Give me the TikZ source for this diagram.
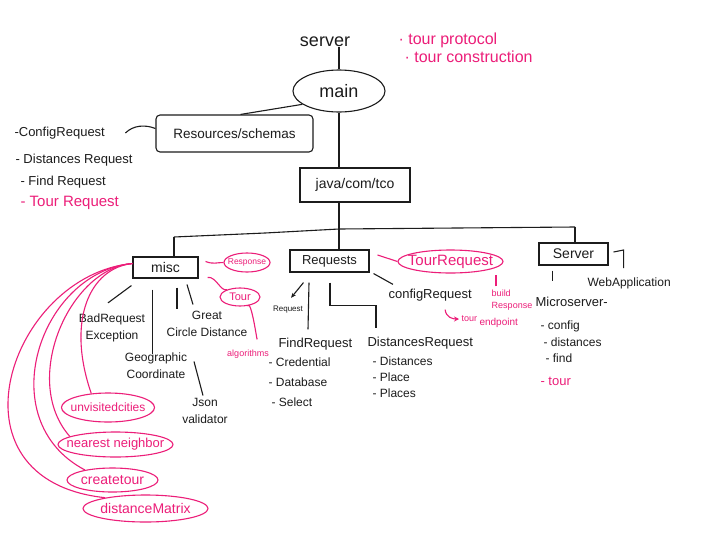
\documentclass[tikz,border=0pt]{standalone}
\usepackage{fontspec}
\setmainfont{Liberation Sans}
\usetikzlibrary{arrows.meta,shapes.geometric,calc}
\definecolor{pk}{RGB}{236,30,121}
\definecolor{ink}{RGB}{28,28,28}
\begin{document}
\begin{tikzpicture}[x=1pt,y=-1pt,line width=1.1pt,color=ink,
  lbl/.style={inner sep=0pt,text=ink,font=\fontsize{12}{17}\selectfont,align=left},
  plbl/.style={lbl,text=pk},
  boxn/.style={draw=ink,inner sep=0pt,line width=1.1pt},
  pell/.style={ellipse,draw=pk,inner sep=0pt,line width=1.1pt},
  pln/.style={draw=pk,line width=1.1pt},
  bln/.style={draw=ink,line width=1.1pt}]
\fill[white] (0,0) rectangle (722,538);
\useasboundingbox (0,0) rectangle (722,538);

% top
\node[lbl,font=\fontsize{18}{20}\selectfont] (server) at (325,42) {server};
\node[ellipse,boxn,minimum width=92pt,minimum height=42pt,
  label={[lbl,font=\fontsize{18}{20}\selectfont]center:main}] (main) at (339,91) {};
\node[plbl,anchor=west,font=\fontsize{16}{18}\selectfont] (tp) at (398,40) {· tour protocol};
\node[plbl,anchor=west,font=\fontsize{16}{18}\selectfont] (tc) at (404,57) {· tour construction};
\draw[bln] (server.south -| main.north) -- (main.north);

% resources
\node[boxn,rounded corners=4pt,minimum width=157pt,minimum height=37pt,
  font=\fontsize{13.5}{15}\selectfont] (res) at (234.5,133.5) {Resources/schemas};
\node[lbl,anchor=west,font=\fontsize{13}{15}\selectfont] (l1) at (14,133) {-ConfigRequest};
\node[lbl,anchor=west,font=\fontsize{13}{15}\selectfont] (l2) at (15,160) {- Distances Request};
\node[lbl,anchor=west,font=\fontsize{13}{15}\selectfont] (l3) at (20,182) {- Find Request};
\node[plbl,anchor=west,font=\fontsize{15}{17}\selectfont] (l4) at (20,203) {- Tour Request};
\draw[bln] ([xshift=6]res.north) -- (main.200);
\draw[bln] ([xshift=20]l1.east) .. controls +(8,-8) and +(-10,-4) .. ([yshift=5]res.west);

% java
\node[boxn,minimum width=110pt,minimum height=34pt,font=\fontsize{14}{16}\selectfont] (java) at (355,185) {java/com/tco};
\draw[bln] (main.south) -- (main.south |- java.north);
\coordinate (bl) at (174,237);
\coordinate (bj) at (339,229);
\coordinate (br) at (575,227);
\draw[bln] (bj |- java.south) -- (bj);
\draw[bln] (bl) -- (265,233) -- (bj) -- (br);

% level boxes
\node[boxn,minimum width=65pt,minimum height=21pt,font=\fontsize{14}{16}\selectfont] (misc) at (165.5,267.5) {misc};
\node[boxn,minimum width=79pt,minimum height=22pt,font=\fontsize{13}{15}\selectfont] (req) at (329.5,261) {Requests};
\node[boxn,minimum width=69pt,minimum height=22pt,font=\fontsize{14}{16}\selectfont] (srv) at (573.5,254) {Server};
\draw[bln] (bl) -- (bl |- misc.north);
\draw[bln] (bj) -- (bj |- req.north);
\draw[bln] (br) -- (br |- srv.north);

% misc children
\node[lbl,align=center] (bre) at (112,327.5) {BadRequest\\Exception};
\node[lbl,align=center] (gcd) at (207,324) {Great\\Circle Distance};
\node[lbl,align=center] (geo) at (156,366) {Geographic\\Coordinate};
\node[lbl,align=center] (json) at (205,411) {Json\\validator};
\draw[bln] ([xshift=-1,yshift=-7]misc.south west) -- ([xshift=-4,yshift=10]bre.north);
\draw[bln] ([xshift=-13,yshift=-11]misc.south) -- ([xshift=-13,yshift=-75]misc.south);
\draw[bln] ([xshift=11.5,yshift=-9]misc.south) -- ([xshift=11.5,yshift=-30]misc.south);
\draw[bln] ([xshift=21.5,yshift=-6]misc.south) -- ([xshift=27.5,yshift=-26]misc.south);
\draw[bln] ([xshift=38,yshift=-9]geo.north) -- ([xshift=47,yshift=-43]geo.north);

% pink around misc
\node[pell,minimum width=46pt,minimum height=19pt,
  label={[plbl,font=\fontsize{8.5}{10}\selectfont]center:Response}] (resp) at (247,262.5) {};
\node[pell,minimum width=40pt,minimum height=18pt,
  label={[plbl,font=\fontsize{11}{13}\selectfont]center:Tour}] (tour) at (240,297) {};
\node[plbl,font=\fontsize{9}{11}\selectfont] (alg) at (248,354) {algorithms};
\draw[pln] ([xshift=7,yshift=6]misc.east) .. controls +(8,3) and +(-7,0) .. (resp.west);
\draw[pln] ([xshift=9,yshift=-10]misc.east) .. controls +(8,-2) and +(-6,3) .. (tour.150);
\draw[pln] (tour.-50) .. controls +(4,-8) and +(1,10) .. ([xshift=9,yshift=11]alg.north);

\node[pell,minimum width=93pt,minimum height=29pt,
  label={[plbl,font=\fontsize{12}{14}\selectfont]center:unvisitedcities}] (uv) at (108,407.5) {};
\node[pell,minimum width=115pt,minimum height=25pt,
  label={[plbl,font=\fontsize{13}{15}\selectfont]center:nearest neighbor}] (nn) at (115.5,444.5) {};
\node[pell,minimum width=91pt,minimum height=24pt,
  label={[plbl,font=\fontsize{14}{16}\selectfont]center:createtour}] (ct) at (112.5,480) {};
\node[pell,minimum width=125pt,minimum height=27pt,
  label={[plbl,font=\fontsize{14}{16}\selectfont]center:distanceMatrix}] (dm) at (145.5,508.5) {};
\coordinate (mw) at ([yshift=4]misc.west);
\draw[pln] (mw) .. controls (90,268) and (66,320) .. (uv.140);
\draw[pln] (mw) .. controls (70,268) and (20,380) .. (nn.170);
\draw[pln] (mw) .. controls (40,272) and (-10,420) .. (ct.160);
\draw[pln] (mw) .. controls (10,275) and (-60,480) .. (dm.165);

% requests children
\node[lbl,font=\fontsize{8}{10}\selectfont] (rq) at (288,310) {Request};
\node[lbl,anchor=west,font=\fontsize{13}{15}\selectfont] (fr) at (278,344) {FindRequest};
\node[lbl,anchor=west,font=\fontsize{13}{15}\selectfont] (dr) at (367,343) {DistancesRequest};
\node[lbl,anchor=west,font=\fontsize{13}{15}\selectfont] (cr) at (388,295) {configRequest};
\node[lbl,anchor=west] (fr1) at (268,362) {- Credential};
\node[lbl,anchor=west] (fr2) at (268,382) {- Database};
\node[lbl,anchor=west] (fr3) at (271,402) {- Select};
\node[lbl,anchor=west] (dr1) at (372,361) {- Distances};
\node[lbl,anchor=west] (dr2) at (372,377) {- Place};
\node[lbl,anchor=west] (dr3) at (372,393) {- Places};
\draw[bln,-{Stealth[length=5pt,width=4pt]}] ([xshift=-26,yshift=-10]req.south) -- ([xshift=3,yshift=8]rq.north);
\draw[bln] ([xshift=-20.5,yshift=-10]req.south) -- ([xshift=30,yshift=8]fr.north west);
\draw[bln] ([xshift=0.5,yshift=-10]req.south) -- ++(0,23) -| ([xshift=9,yshift=8]dr.north west);
\draw[bln] ([xshift=4,yshift=-1]req.south east) -- ([xshift=5,yshift=4]cr.north west);

% pink around requests
\node[pell,minimum width=105pt,minimum height=23pt,
  label={[plbl,font=\fontsize{15}{17}\selectfont]center:TourRequest}] (tr) at (450.5,261.5) {};
\node[plbl,font=\fontsize{9}{12}\selectfont] (bld) at (512,300) {build\\Response};
\node[plbl,font=\fontsize{9}{11}\selectfont,anchor=west] (te1) at (461,319) {tour};
\node[plbl,font=\fontsize{10}{12}\selectfont,anchor=west] (te2) at (479,323) {endpoint};
\draw[pln] ([xshift=8,yshift=6]req.east) -- (tr.west);
\draw[pln] ([xshift=-16,yshift=3]bld.north) -- ++(0,-11);
\draw[pln,-{Stealth[length=5pt,width=5pt]}] ([xshift=15,yshift=-8]cr.south) .. controls +(1,8) and +(-6,0) .. ([xshift=-2]te1.west);

% server children
\node[lbl,anchor=west] (web) at (587,283) {WebApplication};
\node[lbl,anchor=west,font=\fontsize{13}{15}\selectfont] (mic) at (535,302) {Microserver-};
\node[lbl,anchor=west] (s1) at (540,326) {- config};
\node[lbl,anchor=west] (s2) at (543,342) {- distances};
\node[lbl,anchor=west] (s3) at (545,358) {- find};
\node[plbl,anchor=west,font=\fontsize{13}{15}\selectfont] (s4) at (540,381) {- tour};
\draw[bln] ([xshift=5,yshift=2]srv.east) -- ++(10,-2) -- ++(0,18);
\draw[bln] ([xshift=-21,yshift=-5]srv.south) -- ++(0,10);
\end{tikzpicture}
\end{document}
